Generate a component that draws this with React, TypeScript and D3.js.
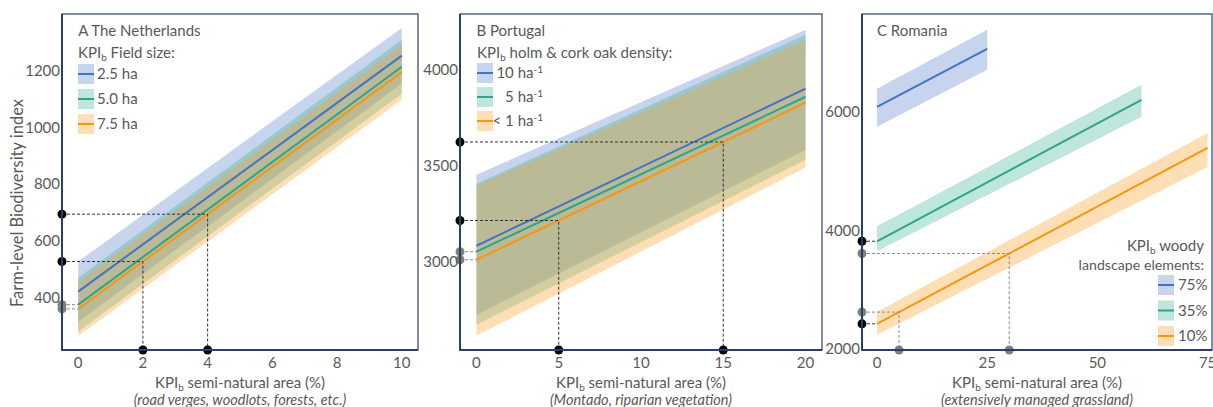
import * as d3 from 'd3';

// Panel A — The Netherlands (field size)
const nlSeries = ['2.5 ha', '5.0 ha', '7.5 ha'];
const nlXEnd = [10, 10, 10];
const nlMean = [[421, 1253], [375, 1214], [360, 1195]];
const nlLow = [[315, 1155], [280, 1119], [264, 1098]];
const nlHigh = [[527, 1351], [470, 1309], [456, 1292]];
const nlXTicks = [0, 2, 4, 6, 8, 10];
const nlYTicks = [400, 600, 800, 1000, 1200];
const nlReadBlack = [2, 4];

// Panel B — Portugal (oak density)
const ptSeries = ['10 ha', '5 ha', '< 1 ha'];
const ptXEnd = [20, 20, 20];
const ptMean = [[3083, 3901], [3052, 3859], [3010, 3828]];
const ptLow = [[2724, 3583], [2672, 3531], [2615, 3490]];
const ptHigh = [[3453, 4208], [3406, 4182], [3396, 4156]];
const ptXTicks = [0, 5, 10, 15, 20];
const ptYTicks = [3000, 3500, 4000];
const ptReadBlack = [5, 15];

// Panel C — Romania (woody landscape elements)
const roSeries = ['75%', '35%', '10%'];
const roXEnd = [25, 60, 75];
const roMean = [[6084, 7062], [3815, 6202], [2422, 5390]];
const roLow = [[5747, 6708], [3645, 5915], [2236, 5069]];
const roHigh = [[6388, 7383], [4067, 6455], [2624, 5642]];
const roXTicks = [0, 25, 50, 75];
const roYTicks = [2000, 4000, 6000];
const roReadGray = [5, 30];

const lineColors = ['#4472c4', '#2ca58b', '#f7960f'];
const bandColors = ['#4472c4', '#2bab8e', '#f8a12b'];
const bandOpacity = [0.3, 0.3, 0.35];
const textColor = '#595959';
const font = "Lato, 'Open Sans', sans-serif";

const TOP = 14;
const BOTTOM = 350;
const FS = 15; // labels
const TICK = 15;

interface PanelProps {
    left: number;
    right: number;
    xDomain: [number, number];
    yDomain: [number, number];
    xTicks: number[];
    yTicks: number[];
    mean: number[][];
    low: number[][];
    high: number[][];
    xEnd: number[];
    blackX?: number[];
    grayX?: number[];
    interceptMarks: 'gray' | 'black';
    title: string;
    subtitle: string;
    children?: React.ReactNode;
}

function Kpi({ rest }: { rest: string }) {
    return (
        <>
            KPI
            <tspan fontSize={10} dy={3}>b</tspan>
            <tspan dy={-3}>{rest}</tspan>
        </>
    );
}

function Panel(p: PanelProps) {
    const x = d3.scaleLinear().domain(p.xDomain).range([p.left, p.right]);
    const y = d3.scaleLinear().domain(p.yDomain).range([BOTTOM, TOP]);
    const at = (i: number, v: number) => {
        const [a, b] = p.mean[i];
        return a + ((b - a) * v) / p.xEnd[i];
    };

    const area = d3
        .area<{ x: number; lo: number; hi: number }>()
        .x((d) => x(d.x))
        .y0((d) => y(d.lo))
        .y1((d) => y(d.hi));
    const line = d3
        .line<{ x: number; v: number }>()
        .x((d) => x(d.x))
        .y((d) => y(d.v));

    // reading guides follow the lowest (orange) line
    const last = p.mean.length - 1;
    const guides = [
        ...(p.blackX || []).map((v) => ({ v, color: '#000', dash: '#333' })),
        ...(p.grayX || []).map((v) => ({ v, color: '#7f7f7f', dash: '#8a8a8a' })),
    ];
    // intercepts of the two lower lines are marked on the y axis
    const intercepts = p.mean.map((m, i) => ({ v: m[0], i })).slice(1);
    const interceptColor = p.interceptMarks === 'gray' ? '#7f7f7f' : '#000';
    const cx = (p.left + p.right) / 2;

    return (
        <g fontFamily={font}>
            {p.mean.map((_, i) => (
                <path
                    key={'band' + i}
                    d={area([
                        { x: 0, lo: p.low[i][0], hi: p.high[i][0] },
                        { x: p.xEnd[i], lo: p.low[i][1], hi: p.high[i][1] },
                    ]) as string}
                    fill={bandColors[i]}
                    fillOpacity={bandOpacity[i]}
                />
            ))}
            {p.mean.map((m, i) => (
                <path
                    key={'line' + i}
                    d={line([
                        { x: 0, v: m[0] },
                        { x: p.xEnd[i], v: m[1] },
                    ]) as string}
                    fill="none"
                    stroke={lineColors[i]}
                    strokeWidth={2}
                />
            ))}

            {/* dashed reading lines */}
            {guides.map((g, k) => {
                const yy = y(at(last, g.v));
                return (
                    <g key={'g' + k}>
                        <path
                            d={`M${p.left},${yy}H${x(g.v)}V${BOTTOM}`}
                            fill="none"
                            stroke={g.dash}
                            strokeWidth={1}
                            strokeDasharray="3 2"
                        />
                        <circle cx={p.left} cy={yy} r={4.5} fill={g.color} />
                        <circle cx={x(g.v)} cy={BOTTOM} r={4.5} fill={g.color} />
                    </g>
                );
            })}
            {intercepts.map((c) => (
                <g key={'int' + c.i}>
                    <path
                        d={`M${p.left},${y(c.v)}H${x(0)}`}
                        stroke={p.interceptMarks === 'gray' ? '#8a8a8a' : '#333'}
                        strokeWidth={1}
                        strokeDasharray="3 2"
                    />
                    <circle cx={p.left} cy={y(c.v)} r={4.5} fill={interceptColor} />
                </g>
            ))}

            {/* frame */}
            <rect
                x={p.left}
                y={TOP}
                width={p.right - p.left}
                height={BOTTOM - TOP}
                fill="none"
                stroke="#56658a"
                strokeWidth={1.5}
            />
            <path
                d={`M${p.left},${TOP}V${BOTTOM}H${p.right}`}
                fill="none"
                stroke="#2f3d66"
                strokeWidth={2}
            />

            {p.yTicks.map((t) => (
                <text
                    key={'yt' + t}
                    x={p.left - 2}
                    y={y(t)}
                    dy="0.35em"
                    textAnchor="end"
                    fontSize={TICK}
                    fill={textColor}
                >
                    {t}
                </text>
            ))}
            {p.xTicks.map((t) => (
                <text
                    key={'xt' + t}
                    x={x(t)}
                    y={363}
                    dy="0.35em"
                    textAnchor="middle"
                    fontSize={TICK}
                    fill={textColor}
                >
                    {t}
                </text>
            ))}

            <text x={x(0)} y={31} dy="0.35em" fontSize={FS} fill={textColor}>
                {p.title}
            </text>
            <text x={cx} y={383} dy="0.35em" textAnchor="middle" fontSize={FS} fill={textColor}>
                <Kpi rest=" semi-natural area (%)" />
            </text>
            <text
                x={cx}
                y={400}
                dy="0.35em"
                textAnchor="middle"
                fontSize={14.5}
                fontStyle="italic"
                fill={textColor}
            >
                {p.subtitle}
            </text>
            {p.children}
        </g>
    );
}

function Swatch({ x, y, i }: { x: number; y: number; i: number }) {
    return (
        <g>
            <rect x={x} y={y - 10} width={16} height={20} fill={bandColors[i]} fillOpacity={bandOpacity[i]} />
            <line x1={x} x2={x + 16} y1={y} y2={y} stroke={lineColors[i]} strokeWidth={2} />
        </g>
    );
}

const legendRows = [74, 99, 124];

export default function App() {
    return (
        <svg
            width={1213}
            height={407}
            style={{ position: 'absolute', left: 0, top: 0, background: '#fff' }}
        >
            <text
                transform="translate(17,203) rotate(-90)"
                dy="0.35em"
                textAnchor="middle"
                fontFamily={font}
                fontSize={16.5}
                fill={textColor}
            >
                Farm-level Biodiversity index
            </text>

            <Panel
                left={62}
                right={418}
                xDomain={[-0.5, 10.5]}
                yDomain={[215, 1400]}
                xTicks={nlXTicks}
                yTicks={nlYTicks}
                mean={nlMean}
                low={nlLow}
                high={nlHigh}
                xEnd={nlXEnd}
                blackX={nlReadBlack}
                interceptMarks="gray"
                title="A The Netherlands"
                subtitle="(road verges, woodlots, forests, etc.)"
            >
                <text x={78} y={53} dy="0.35em" fontSize={FS} fill={textColor}>
                    <Kpi rest=" Field size:" />
                </text>
                {nlSeries.map((s, i) => (
                    <g key={s}>
                        <Swatch x={78} y={legendRows[i]} i={i} />
                        <text x={97} y={legendRows[i]} dy="0.35em" fontSize={FS} fill={textColor}>
                            {s}
                        </text>
                    </g>
                ))}
            </Panel>

            <Panel
                left={460}
                right={822}
                xDomain={[-1, 21]}
                yDomain={[2540, 4290]}
                xTicks={ptXTicks}
                yTicks={ptYTicks}
                mean={ptMean}
                low={ptLow}
                high={ptHigh}
                xEnd={ptXEnd}
                blackX={ptReadBlack}
                interceptMarks="gray"
                title="B Portugal"
                subtitle="(Montado, riparian vegetation)"
            >
                <text x={477} y={53} dy="0.35em" fontSize={FS} fill={textColor}>
                    <Kpi rest=" holm & cork oak density:" />
                </text>
                {ptSeries.map((s, i) => (
                    <g key={s}>
                        <Swatch x={477} y={legendRows[i] - 1 - i} i={i} />
                        <text
                            x={543}
                            y={legendRows[i] - 1 - i}
                            dy="0.35em"
                            textAnchor="end"
                            fontSize={FS}
                            fill={textColor}
                        >
                            {s}
                            <tspan fontSize={10} dy={-5}>-1</tspan>
                        </text>
                    </g>
                ))}
            </Panel>

            <Panel
                left={862}
                right={1212}
                xDomain={[-3.4, 76]}
                yDomain={[1980, 7650]}
                xTicks={roXTicks}
                yTicks={roYTicks}
                mean={roMean}
                low={roLow}
                high={roHigh}
                xEnd={roXEnd}
                grayX={roReadGray}
                interceptMarks="black"
                title="C Romania"
                subtitle="(extensively managed grassland)"
            >
                <text x={1204} y={246} dy="0.35em" textAnchor="end" fontSize={FS} fill={textColor}>
                    <Kpi rest=" woody" />
                </text>
                <text x={1204} y={265} dy="0.35em" textAnchor="end" fontSize={14.2} fill={textColor}>
                    landscape elements:
                </text>
                {roSeries.map((s, i) => (
                    <g key={s}>
                        <Swatch x={1158} y={285 + i * 25.5} i={i} />
                        <text x={1178} y={285 + i * 25.5} dy="0.35em" fontSize={FS} fill={textColor}>
                            {s}
                        </text>
                    </g>
                ))}
            </Panel>
        </svg>
    );
}
